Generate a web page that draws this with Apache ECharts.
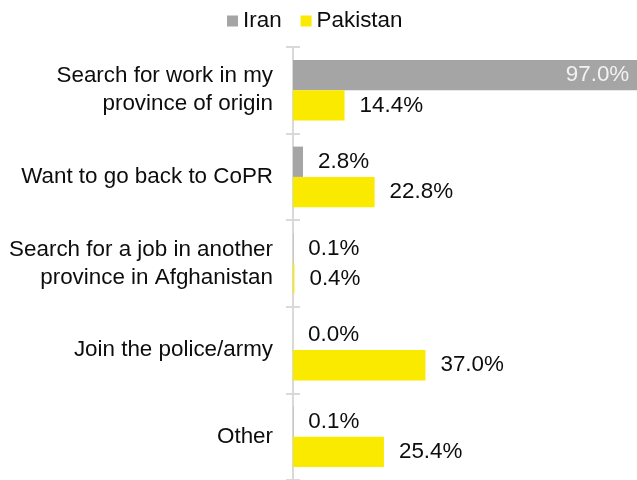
<!DOCTYPE html>
<html>
<head>
<meta charset="utf-8">
<script src="https://cdn.jsdelivr.net/npm/echarts@6/dist/echarts.min.js"></script>
<style>
  html, body { margin: 0; padding: 0; background: #fff; overflow: hidden; }
  /* the plot runs past the right edge of the page, so the longest bar is cut off */
  #chart { width: 660px; height: 480px; }
</style>
</head>
<body>
<div id="chart"></div>
<script>
// Intended next steps of returnees, by country of return
const categories = [
  'Search for work in my\nprovince of origin',
  'Want to go back to CoPR',
  'Search for a job in another\nprovince in Afghanistan',
  'Join the police/army',
  'Other'
];
const iranValues = [97.0, 2.8, 0.1, 0.0, 0.1];
const pakistanValues = [14.4, 22.8, 0.4, 37.0, 25.4];

const FONT = "'Liberation Sans', Arial, sans-serif";
const FS = 22.4;
const TEXT = '#0d0d0d';
const fmt = p => p.value.toFixed(1) + '%';

const chart = echarts.init(document.getElementById('chart'), null, { renderer: 'canvas' });
chart.setOption({
  animation: false,
  backgroundColor: '#ffffff',
  textStyle: { fontFamily: FONT },
  legend: {
    left: 222,
    top: 5,
    itemWidth: 11,
    itemHeight: 11,
    itemGap: 19,
    icon: 'rect',
    textStyle: { fontFamily: FONT, fontSize: FS, color: TEXT },
    data: ['Iran', 'Pakistan']
  },
  grid: { left: 293, right: 9, top: 47, bottom: -5, containLabel: false },
  xAxis: { type: 'value', min: 0, max: 100, show: false },
  yAxis: [
    {
      type: 'category',
      data: categories,
      inverse: true,
      axisLine: { show: true, lineStyle: { color: '#D9D9D9', width: 2 } },
      axisTick: { show: true, length: 7, lineStyle: { color: '#D9D9D9', width: 2 } },
      axisLabel: {
        margin: 20,
        fontFamily: FONT,
        fontSize: FS,
        lineHeight: 28,
        color: TEXT,
        align: 'right'
      }
    },
    {
      // tick marks on the inner side of the category axis
      type: 'category',
      data: categories,
      inverse: true,
      position: 'left',
      axisLine: { show: false },
      axisTick: { show: true, inside: true, length: 7, lineStyle: { color: '#D9D9D9', width: 2 } },
      axisLabel: { show: false }
    }
  ],
  series: [
    {
      name: 'Iran',
      type: 'bar',
      data: iranValues.map((v, i) => i === 0
        ? { value: v, label: { position: 'insideRight', distance: 11, color: '#F2F2F2' } }
        : v),
      itemStyle: { color: '#A5A5A5' },
      barGap: '0%',
      barCategoryGap: '30%',
      label: {
        show: true,
        position: 'right',
        distance: 15,
        formatter: fmt,
        fontFamily: FONT,
        fontSize: FS,
        color: TEXT
      }
    },
    {
      name: 'Pakistan',
      type: 'bar',
      data: pakistanValues,
      itemStyle: { color: '#FAEA00' },
      barGap: '0%',
      barCategoryGap: '30%',
      label: {
        show: true,
        position: 'right',
        distance: 15,
        formatter: fmt,
        fontFamily: FONT,
        fontSize: FS,
        color: TEXT
      }
    }
  ]
});
</script>
</body>
</html>
